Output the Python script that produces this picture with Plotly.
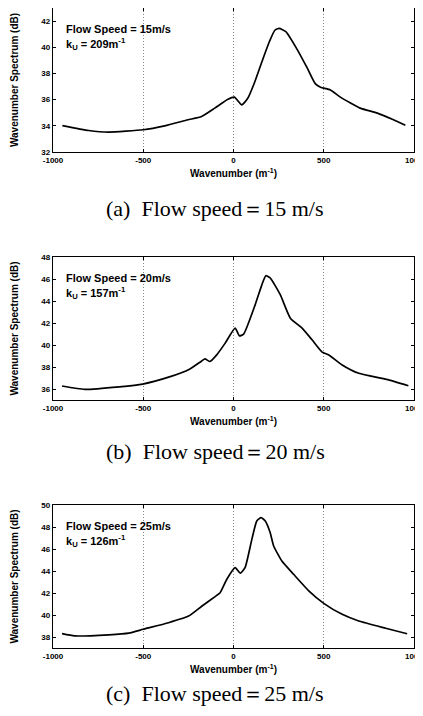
import plotly.graph_objects as go

# The page body has an 8px margin; the figure div starts at (8, 8) in the window
W, H = 415, 700
OFF = 8

# ---- data ----
k_a = [-948, -802, -692, -500, -381, -253, -177, -104, -31, 5, 46, 79, 115, 161, 198, 229, 253, 290, 354, 409, 454, 482, 537, 592, 702, 797, 880, 952]
s_a = [34.02, 33.64, 33.52, 33.7, 34.0, 34.46, 34.71, 35.35, 36.03, 36.19, 35.6, 36.1, 37.25, 39.03, 40.4, 41.3, 41.44, 41.19, 39.8, 38.4, 37.2, 36.95, 36.74, 36.19, 35.35, 34.97, 34.5, 34.05]

k_b = [-950, -824, -633, -503, -355, -244, -176, -158, -130, -93, -46, 9, 33, 56, 120, 157, 179, 203, 259, 315, 380, 435, 491, 528, 602, 694, 848, 969]
s_b = [36.27, 35.97, 36.2, 36.45, 37.1, 37.8, 38.55, 38.73, 38.5, 39.1, 40.17, 41.53, 40.83, 40.98, 43.65, 45.47, 46.3, 46.1, 44.57, 42.44, 41.53, 40.47, 39.35, 39.1, 38.19, 37.43, 36.87, 36.3]

k_c = [-950, -880, -691, -580, -500, -360, -249, -176, -102, -74, -37, 9, 37, 64, 102, 129, 153, 176, 203, 222, 268, 333, 417, 500, 602, 694, 843, 962]
s_c = [38.3, 38.1, 38.2, 38.35, 38.7, 39.3, 39.9, 40.8, 41.67, 42.03, 43.25, 44.3, 43.8, 44.3, 46.9, 48.55, 48.85, 48.55, 47.5, 46.3, 44.9, 43.7, 42.2, 41.06, 40.06, 39.45, 38.8, 38.3]

x_ticks = [-1000, -500, 0, 500, 1000]
y_ranges = [(32, 43), (35, 48), (37, 50)]
y_ticks = [list(range(32, 43, 2)), list(range(36, 49, 2)), list(range(38, 51, 2))]
speeds = ["15", "20", "25"]
k_u = ["209", "157", "126"]
letters = ["a", "b", "c"]
series = [(k_a, s_a), (k_b, s_b), (k_c, s_c)]

# ---- layout geometry (window pixels) ----
px_left, px_right = 53, 414
panel_px = [(8, 152), (257, 400), (505, 648)]
caption_y = [208, 451, 693]

def fx(px):
    return (px - OFF) / W

def fy(py):
    return 1 - (py - OFF) / H

fig = go.Figure()
sans = "Liberation Sans, Arial, sans-serif"

for i, ((kx, sy), (top, bot)) in enumerate(zip(series, panel_px)):
    n = "" if i == 0 else str(i + 1)
    xa, ya = "x" + n, "y" + n
    fig.add_trace(go.Scatter(x=kx, y=sy, mode="lines", xaxis=xa, yaxis=ya,
                             line=dict(color="black", width=1.7, shape="spline", smoothing=0.5),
                             showlegend=False, hoverinfo="x+y"))
    fig.layout["xaxis" + n] = dict(
        domain=[fx(px_left), fx(px_right)], anchor=ya, range=[-1000, 1000],
        tickvals=x_ticks, ticktext=[str(v) for v in x_ticks],
        showline=True, linecolor="black", linewidth=1.4, mirror="ticks",
        ticks="inside", ticklen=3, tickcolor="black",
        showgrid=True, gridcolor="#888", griddash="1px,2px", gridwidth=1,
        zeroline=False, automargin=False, ticklabeloverflow="allow",
        tickfont=dict(family=sans, size=8, color="black", weight="bold"),
        title=dict(text="Wavenumber (m<sup>-1</sup>)", standoff=6,
                   font=dict(family=sans, size=10, color="black", weight="bold")),
    )
    fig.layout["yaxis" + n] = dict(
        domain=[fy(bot), fy(top)], anchor=xa, range=list(y_ranges[i]),
        tickvals=y_ticks[i],
        showline=True, linecolor="black", linewidth=1.4, mirror="ticks",
        ticks="inside", ticklen=3, tickcolor="black",
        showgrid=False, zeroline=False, automargin=False,
        tickfont=dict(family=sans, size=8, color="black", weight="bold"),
        title=dict(text="Wavenumber Spectrum (dB)", standoff=20,
                   font=dict(family=sans, size=10, color="black", weight="bold")),
    )
    fig.add_annotation(xref="paper", yref="paper", x=fx(64), y=fy(top + 21),
                       xanchor="left", yanchor="middle", showarrow=False,
                       text="Flow Speed = " + speeds[i] + "m/s",
                       font=dict(family=sans, size=11, color="black", weight="bold"))
    fig.add_annotation(xref="paper", yref="paper", x=fx(64), y=fy(top + 36),
                       xanchor="left", yanchor="middle", showarrow=False,
                       text="k<sub>U</sub> = " + k_u[i] + "m<sup>-1</sup>",
                       font=dict(family=sans, size=11, color="black", weight="bold"))
    fig.add_annotation(xref="paper", yref="paper", x=fx(215), y=fy(caption_y[i]),
                       xanchor="center", yanchor="middle", showarrow=False,
                       text="(" + letters[i] + ")  Flow speed\uff1d" + speeds[i] + " m/s",
                       font=dict(family="Liberation Serif, Times New Roman, serif", size=22, color="black"))

fig.update_layout(width=W, height=H, margin=dict(l=0, r=0, t=0, b=0),
                  paper_bgcolor="white", plot_bgcolor="white")

fig.write_html("out.html")
